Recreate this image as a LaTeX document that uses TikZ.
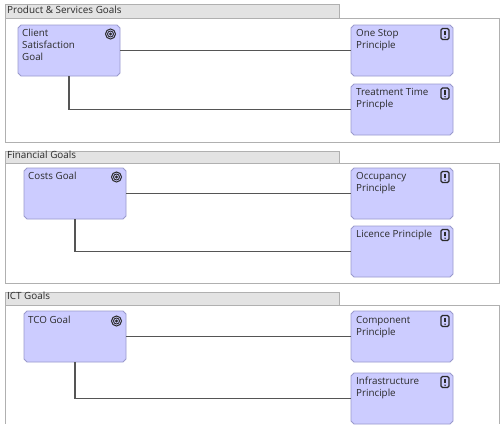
\documentclass[tikz,border=0pt]{standalone}
\usepackage{fontspec}
\setmainfont{Open Sans}
\definecolor{boxfill}{HTML}{CCCCFF}
\definecolor{boxline}{HTML}{9A9ACC}
\definecolor{tabfill}{HTML}{E3E3E3}
\definecolor{grpline}{HTML}{B0B0B0}
\definecolor{wire}{HTML}{555555}
\definecolor{ink}{HTML}{2A2A2A}
\tikzset{
  elem/.style={rectangle,minimum width=102pt,minimum height=51pt,inner sep=0pt,outer sep=0pt},
  elemshape/.style={draw=boxline,fill=boxfill,line width=.9pt},
  elemtext/.style={anchor=north west,font=\fontsize{9.8}{12}\selectfont,text=ink,align=left,inner sep=0pt},
  tabbox/.style={draw=grpline,fill=tabfill,line width=1pt,minimum width=334pt,inner sep=0pt,outer sep=0pt,anchor=north west},
  grpbox/.style={draw=grpline,fill=white,line width=1pt,inner sep=0pt,outer sep=0pt},
  tabtext/.style={anchor=north west,font=\fontsize{9.9}{12}\selectfont,text=ink,inner sep=0pt},
  wirestyle/.style={draw=wire,line width=1.1pt},
  pics/goalicon/.style={code={
    \draw[ink,line width=1pt] (0,0) circle[radius=5pt];
    \draw[ink,line width=.9pt] (0,0) circle[radius=3pt];
    \fill[ink] (0,0) circle[radius=1.6pt];}},
  pics/prinicon/.style={code={
    \draw[ink,line width=1.1pt,rounded corners=1.5pt] (-4,-5.5) rectangle (4,5.5);
    \draw[ink,line width=1.2pt] (0,-3.5) -- (0,1);
    \fill[ink] (0,3.2) circle[radius=.8pt];}}
}
\newcommand{\chambox}[3]{%
  \node[elem] (#1) at (#2,#3) {};
  \draw[elemshape] ([xshift=3pt]#1.north west) -- ([xshift=-3pt]#1.north east)
    -- ([yshift=-3pt]#1.north east) -- ([yshift=3pt]#1.south east)
    -- ([xshift=-3pt]#1.south east) -- ([xshift=3pt]#1.south west)
    -- ([yshift=3pt]#1.south west) -- ([yshift=-3pt]#1.north west) -- cycle;}
\begin{document}
\begin{tikzpicture}[x=1pt,y=-1pt]
\useasboundingbox (0,0) rectangle (502,431);
\fill[white] (0,0) rectangle (502,431);
% group 1
\node[tabbox,minimum height=14pt] (tab1) at (5,4) {};
\draw[grpbox] (5,18) rectangle (499,142);
\node[tabtext] (tabt1) at (7,6) {Product \& Services Goals};
% group 2
\node[tabbox,minimum height=12pt] (tab2) at (5,151) {};
\draw[grpbox] (5,163) rectangle (499,283);
\node[tabtext] (tabt2) at (7,151) {Financial Goals};
% group 3
\node[tabbox,minimum height=13pt] (tab3) at (5,292) {};
\draw[grpbox] (5,305) -- (499,305) -- (499,424);
\draw[grpbox] (5,305) -- (5,424);
\node[tabtext] (tabt3) at (7,292) {ICT Goals};
% elements
\chambox{client}{69}{50.5}
\chambox{onestop}{402}{50.5}
\chambox{treat}{402}{109.5}
\chambox{costs}{75}{193.5}
\chambox{occ}{402}{193.5}
\chambox{lic}{402}{251.5}
\chambox{tco}{75}{336.5}
\chambox{comp}{402}{336.5}
\chambox{infra}{402}{398.5}
% connectors
\draw[wirestyle] (client.east) -- (onestop.west);
\draw[wirestyle] (client.south) |- (treat.west);
\draw[wirestyle] (costs.east) -- (occ.west);
\draw[wirestyle] (costs.south) |- (lic.west);
\draw[wirestyle] (tco.east) -- (comp.west);
\draw[wirestyle] (tco.south) |- (infra.west);
% text
\node[elemtext] (t1) at (22,29) {Client\\Satisfaction\\Goal};
\node[elemtext] (t2) at (356,29) {One Stop\\Principle};
\node[elemtext] (t3) at (356,88) {Treatment Time\\Princple};
\node[elemtext] (t4) at (28,172) {Costs Goal};
\node[elemtext] (t5) at (356,172) {Occupancy\\Principle};
\node[elemtext] (t6) at (356,230) {Licence Principle};
\node[elemtext] (t7) at (28,316) {TCO Goal};
\node[elemtext] (t8) at (356,316) {Component\\Principle};
\node[elemtext] (t9) at (356,377) {Infrastructure\\Principle};
% icons
\pic at (110.5,34) {goalicon};
\pic at (116.5,177) {goalicon};
\pic at (116.5,321) {goalicon};
\pic at (445,34) {prinicon};
\pic at (445,93.5) {prinicon};
\pic at (445,177) {prinicon};
\pic at (445,235) {prinicon};
\pic at (445,321) {prinicon};
\pic at (445,382) {prinicon};
\end{tikzpicture}
\end{document}
